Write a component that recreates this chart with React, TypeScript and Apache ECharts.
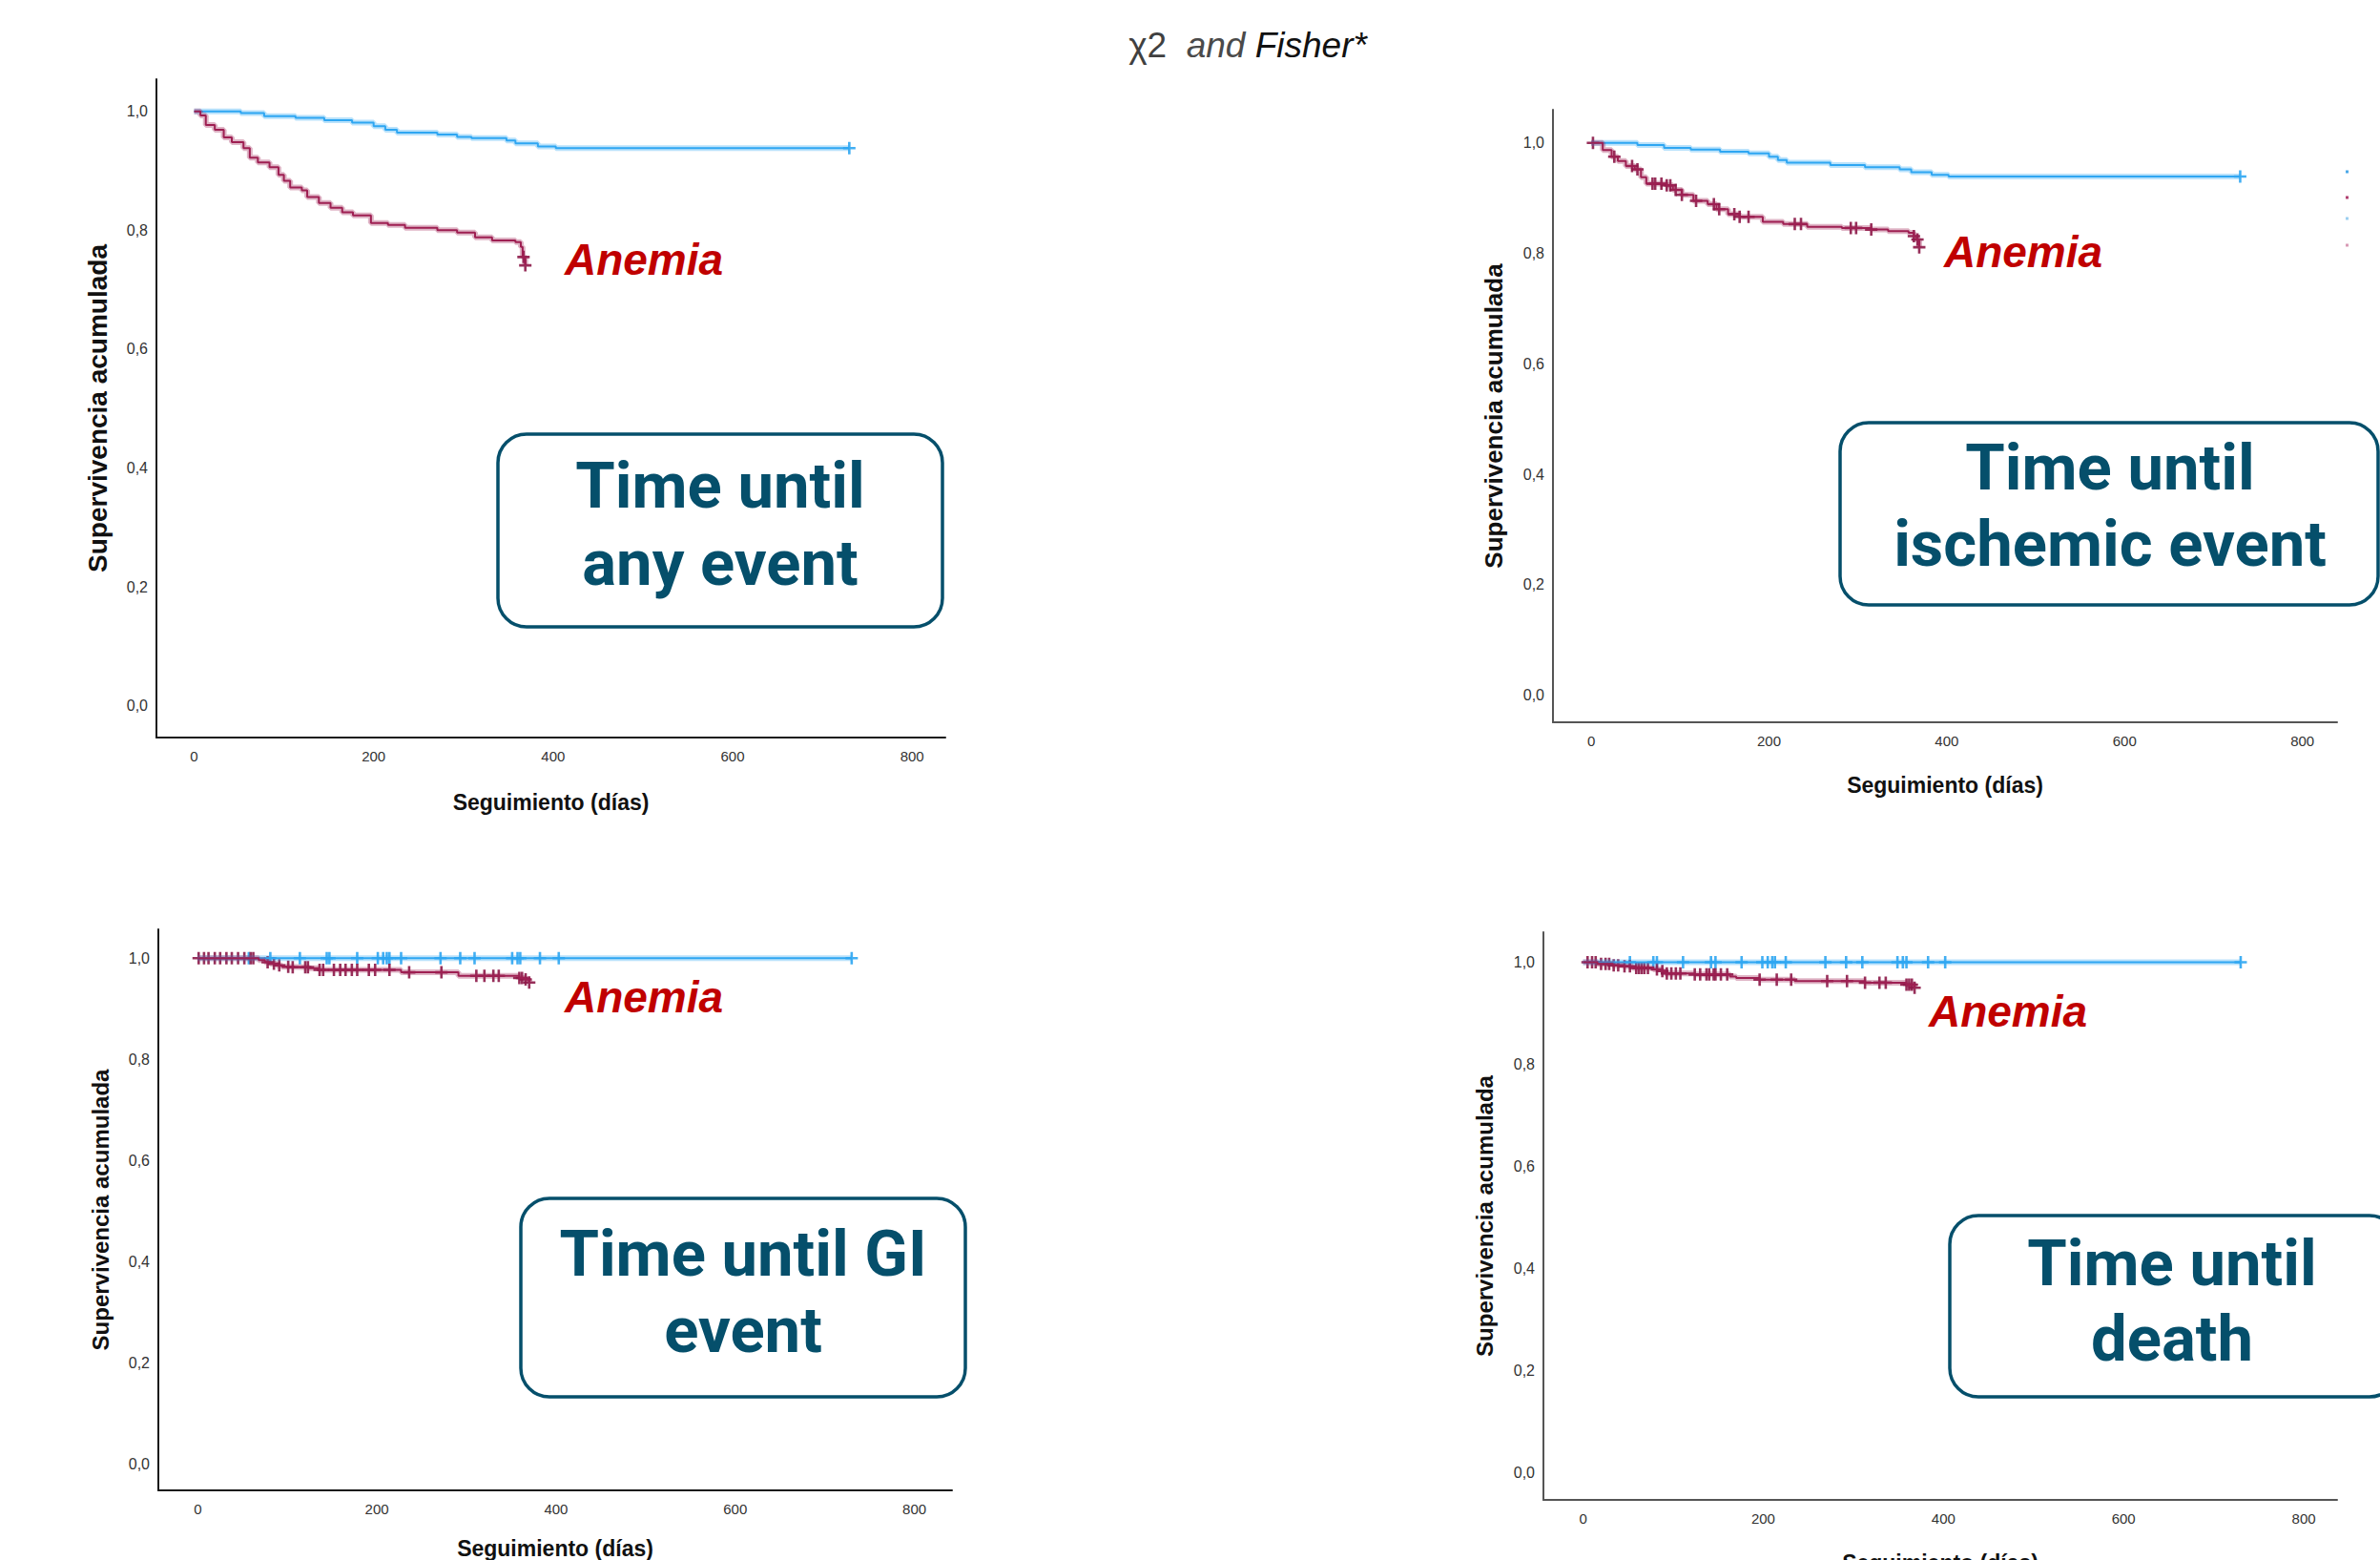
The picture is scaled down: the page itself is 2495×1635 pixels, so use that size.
import React, { useEffect, useRef } from "react";
import * as echarts from "echarts";

// ---------- data ----------
const xTicks = [0, 200, 400, 600, 800];
const yTicks = [0, 0.2, 0.4, 0.6, 0.8, 1.0];
const panelTitles = [
  ["Time until", "any event"],
  ["Time until", "ischemic event"],
  ["Time until GI", "event"],
  ["Time until", "death"],
];
const groupLabel = "Anemia";

// Panel 1: any event
const anyNoAnemiaT = [0, 52, 78, 113, 145, 176, 200, 213, 226, 271, 293, 309, 348, 358, 383, 403, 730];
const anyNoAnemiaS = [1.0, 0.997, 0.992, 0.989, 0.985, 0.981, 0.975, 0.969, 0.964, 0.961, 0.957, 0.955, 0.951, 0.946, 0.941, 0.938, 0.938];
const anyNoAnemiaCens = [730];
const anyAnemiaT = [0, 7, 13, 23, 33, 42, 55, 62, 71, 84, 94, 100, 107, 120, 126, 139, 152, 165, 177, 197, 216, 235, 271, 293, 313, 332, 358, 364, 366, 369];
const anyAnemiaS = [1.0, 0.993, 0.977, 0.969, 0.956, 0.948, 0.938, 0.922, 0.914, 0.906, 0.893, 0.883, 0.872, 0.867, 0.856, 0.846, 0.838, 0.830, 0.825, 0.812, 0.809, 0.804, 0.800, 0.796, 0.788, 0.783, 0.780, 0.772, 0.755, 0.741];
const anyAnemiaCens = [367, 369];

// Panel 2: ischemic event
const iscNoAnemiaT = [0, 52, 82, 112, 145, 177, 200, 210, 220, 269, 308, 347, 360, 383, 402, 730];
const iscNoAnemiaS = [1.0, 0.996, 0.991, 0.988, 0.984, 0.981, 0.975, 0.969, 0.964, 0.96, 0.956, 0.952, 0.947, 0.942, 0.939, 0.939];
const iscNoAnemiaCens = [730];
const iscAnemiaT = [0, 13, 23, 30, 39, 49, 56, 62, 85, 92, 102, 115, 131, 141, 154, 167, 193, 216, 243, 282, 315, 334, 357, 363, 366, 369];
const iscAnemiaS = [1.0, 0.987, 0.975, 0.967, 0.958, 0.952, 0.938, 0.926, 0.923, 0.915, 0.906, 0.895, 0.889, 0.88, 0.871, 0.866, 0.857, 0.853, 0.848, 0.846, 0.843, 0.84, 0.837, 0.831, 0.825, 0.811];
const iscAnemiaCens = [2, 26, 46, 52, 69, 72, 79, 85, 89, 95, 102, 118, 138, 144, 161, 167, 177, 229, 236, 292, 298, 315, 363, 367, 369];

// Panel 3: GI event
const giNoAnemiaT = [0, 730];
const giNoAnemiaS = [1.0, 1.0];
const giNoAnemiaCens = [57, 81, 114, 144, 147, 178, 201, 207, 211, 214, 227, 271, 293, 309, 351, 357, 360, 382, 403, 730];
const giAnemiaT = [0, 68, 75, 81, 88, 94, 104, 124, 136, 227, 291, 359, 366, 370];
const giAnemiaS = [1.0, 0.996, 0.992, 0.989, 0.986, 0.983, 0.982, 0.98, 0.977, 0.972, 0.965, 0.961, 0.958, 0.952];
const giAnemiaCens = [1, 7, 12, 19, 25, 32, 38, 45, 52, 59, 62, 78, 85, 91, 101, 106, 120, 123, 136, 140, 152, 159, 165, 172, 178, 191, 198, 214, 236, 272, 311, 320, 330, 336, 359, 362, 366, 370];

// Panel 4: death
const dNoAnemiaT = [0, 730];
const dNoAnemiaS = [1.0, 1.0];
const dNoAnemiaCens = [52, 78, 82, 111, 142, 147, 176, 199, 205, 210, 213, 225, 269, 292, 310, 349, 355, 359, 383, 402, 730];
const dAnemiaT = [0, 16, 33, 45, 55, 78, 88, 91, 124, 163, 170, 196, 235, 313, 359, 368];
const dAnemiaS = [1.0, 0.997, 0.994, 0.992, 0.989, 0.986, 0.983, 0.978, 0.976, 0.972, 0.969, 0.966, 0.963, 0.96, 0.956, 0.95];
const dAnemiaCens = [5, 10, 14, 20, 25, 29, 34, 39, 46, 52, 59, 62, 65, 68, 72, 82, 88, 93, 98, 103, 108, 124, 130, 137, 140, 145, 147, 153, 160, 196, 215, 231, 271, 293, 313, 329, 336, 359, 362, 365, 368];

const panelsData = [
  { noT: anyNoAnemiaT, noS: anyNoAnemiaS, noC: anyNoAnemiaCens, anT: anyAnemiaT, anS: anyAnemiaS, anC: anyAnemiaCens },
  { noT: iscNoAnemiaT, noS: iscNoAnemiaS, noC: iscNoAnemiaCens, anT: iscAnemiaT, anS: iscAnemiaS, anC: iscAnemiaCens },
  { noT: giNoAnemiaT, noS: giNoAnemiaS, noC: giNoAnemiaCens, anT: giAnemiaT, anS: giAnemiaS, anC: giAnemiaCens },
  { noT: dNoAnemiaT, noS: dNoAnemiaS, noC: dNoAnemiaCens, anT: dAnemiaT, anS: dAnemiaS, anC: dAnemiaCens },
];

// ---------- layout ----------
const grids = [
  { left: 164, top: 83, width: 827, height: 690, xmin: -42, xmax: 837, ymin: -0.053, ymax: 1.054, axisColor: "#1a1a1a", nameGapX: 56, nameGapY: 48, yNameSize: 28 },
  { left: 1628, top: 115, width: 822, height: 642, xmin: -43, xmax: 839, ymin: -0.049, ymax: 1.06, axisColor: "#555", nameGapX: 54, nameGapY: 49, yNameSize: 26 },
  { left: 166, top: 974, width: 832, height: 588, xmin: -44, xmax: 842, ymin: -0.051, ymax: 1.057, axisColor: "#1a1a1a", nameGapX: 49, nameGapY: 49, yNameSize: 24 },
  { left: 1618, top: 977, width: 832, height: 595, xmin: -44, xmax: 837, ymin: -0.054, ymax: 1.059, axisColor: "#555", nameGapX: 54, nameGapY: 50, yNameSize: 24 },
];
const boxes = [
  { x: 522, y: 455, w: 466, h: 202, cx: 755, l1: 509, l2: 590 },
  { x: 1929, y: 443, w: 564, h: 191, cx: 2212, l1: 490, l2: 570 },
  { x: 546, y: 1256, w: 466, h: 208, cx: 779, l1: 1314, l2: 1394 },
  { x: 2044, y: 1274, w: 470, h: 190, cx: 2277, l1: 1324, l2: 1403 },
];
const anemiaPos = [
  { x: 675, y: 272 },
  { x: 2121, y: 264 },
  { x: 675, y: 1045 },
  { x: 2105, y: 1060 },
];

const BLUE = "#2ea6f2";
const BLUE_HALO = "rgba(46,166,242,0.33)";
const RED = "#9e1f52";
const RED_HALO = "rgba(158,31,82,0.33)";
const RED_MARK = "#8c1848";
const TEAL = "#054f6b";
const PLUS = "path://M4,0H6V4H10V6H6V10H4V6H0V4H4Z";
const SANS = "'Liberation Sans', Arial, sans-serif";

function pairs(t: number[], s: number[]) {
  return t.map((v, i) => [v, s[i]]);
}
function survAt(t: number[], s: number[], time: number) {
  let v = s[0];
  for (let i = 0; i < t.length; i++) {
    if (t[i] <= time) v = s[i];
  }
  return v;
}

function buildOption() {
  const grid = grids.map((g) => ({
    left: g.left,
    top: g.top,
    width: g.width,
    height: g.height,
    containLabel: false,
    outerBoundsMode: "none",
  }));
  const xAxis = grids.map((g, i) => ({
    type: "value",
    gridIndex: i,
    min: g.xmin,
    max: g.xmax,
    axisLine: { show: true, onZero: false, lineStyle: { color: g.axisColor, width: 2 } },
    axisTick: { show: false },
    splitLine: { show: false },
    axisLabel: {
      customValues: xTicks,
      fontSize: 15,
      color: "#333",
      margin: 12,
      fontFamily: SANS,
    },
    name: "Seguimiento (días)",
    nameLocation: "middle",
    nameGap: g.nameGapX,
    nameTextStyle: { fontSize: 23, fontWeight: "bold", color: "#111", fontFamily: SANS },
  }));
  const yAxis = grids.map((g, i) => ({
    type: "value",
    gridIndex: i,
    min: g.ymin,
    max: g.ymax,
    axisLine: { show: true, onZero: false, lineStyle: { color: g.axisColor, width: 2 } },
    axisTick: { show: false },
    splitLine: { show: false },
    axisLabel: {
      customValues: yTicks,
      formatter: (v: number) => v.toFixed(1).replace(".", ","),
      fontSize: 16,
      color: "#333",
      margin: 9,
      fontFamily: SANS,
    },
    name: "Supervivencia acumulada",
    nameLocation: "middle",
    nameGap: g.nameGapY,
    nameRotate: 90,
    nameTextStyle: { fontSize: g.yNameSize, fontWeight: "bold", color: "#111", fontFamily: SANS },
  }));

  const series: any[] = [];
  panelsData.forEach((p, i) => {
    const groups = [
      { t: p.noT, s: p.noS, c: p.noC, core: BLUE, halo: BLUE_HALO, mark: BLUE, name: "No anemia" },
      { t: p.anT, s: p.anS, c: p.anC, core: RED, halo: RED_HALO, mark: RED_MARK, name: "Anemia" },
    ];
    groups.forEach((g) => {
      const data = pairs(g.t, g.s);
      series.push({
        type: "line",
        name: g.name + " halo",
        xAxisIndex: i,
        yAxisIndex: i,
        step: "end",
        data,
        showSymbol: false,
        symbol: "none",
        lineStyle: { color: g.halo, width: 6 },
        silent: true,
      });
      series.push({
        type: "line",
        name: g.name,
        xAxisIndex: i,
        yAxisIndex: i,
        step: "end",
        data,
        showSymbol: false,
        symbol: "none",
        lineStyle: { color: g.core, width: 2 },
      });
      series.push({
        type: "scatter",
        name: g.name + " censored",
        xAxisIndex: i,
        yAxisIndex: i,
        data: g.c.map((ct) => [ct, survAt(g.t, g.s, ct)]),
        symbol: PLUS,
        symbolSize: 13,
        itemStyle: { color: g.mark, opacity: 0.9 },
      });
    });
  });

  const graphic: any[] = [];
  graphic.push({
    type: "text",
    x: 1308,
    y: 47,
    style: {
      text: "{a|χ2}  {b|and} {c|Fisher*}",
      align: "center",
      verticalAlign: "middle",
      font: "italic 37px " + SANS,
      rich: {
        a: { fontStyle: "normal", fontSize: 37, fill: "#404040", fontFamily: SANS },
        b: { fontStyle: "italic", fontSize: 37, fill: "#4a4a4a", fontFamily: SANS },
        c: { fontStyle: "italic", fontSize: 37, fill: "#111", fontFamily: SANS },
      },
    },
  });
  boxes.forEach((b, i) => {
    graphic.push({
      type: "rect",
      shape: { x: b.x, y: b.y, width: b.w, height: b.h, r: 30 },
      style: { fill: "#fff", stroke: TEAL, lineWidth: 3.5 },
      z: 10,
    });
    [b.l1, b.l2].forEach((ly, k) => {
      graphic.push({
        type: "text",
        x: b.cx,
        y: ly,
        z: 11,
        style: {
          text: panelTitles[i][k],
          align: "center",
          verticalAlign: "middle",
          fontFamily: "Roboto, sans-serif",
          fontWeight: "bold",
          fontSize: 67,
          fill: TEAL,
        },
      });
    });
  });
  anemiaPos.forEach((a) => {
    graphic.push({
      type: "text",
      x: a.x,
      y: a.y,
      z: 11,
      style: {
        text: groupLabel,
        align: "center",
        verticalAlign: "middle",
        fontFamily: SANS,
        fontWeight: "bold",
        fontStyle: "italic",
        fontSize: 46,
        fill: "#c00000",
      },
    });
  });
  // remnants of the cropped legend in panel 2
  const dots = [
    { y: 180, c: "#4aa8e8" },
    { y: 207, c: "#b04070" },
    { y: 229, c: "#9ccff0" },
    { y: 257, c: "#d89ab5" },
  ];
  dots.forEach((d) => {
    graphic.push({
      type: "rect",
      shape: { x: 2459, y: d.y - 1.5, width: 3, height: 3 },
      style: { fill: d.c },
    });
  });

  return {
    animation: false,
    backgroundColor: "#fff",
    grid,
    xAxis,
    yAxis,
    series,
    graphic,
  };
}

export default function App() {
  const ref = useRef<HTMLDivElement>(null);
  useEffect(() => {
    if (!ref.current) return;
    const chart = echarts.init(ref.current, undefined, { renderer: "svg" });
    chart.setOption(buildOption() as any);
    return () => chart.dispose();
  }, []);
  return (
    <div
      ref={ref}
      style={{ position: "absolute", left: 0, top: 0, width: 2495, height: 1635, background: "#fff" }}
    />
  );
}
